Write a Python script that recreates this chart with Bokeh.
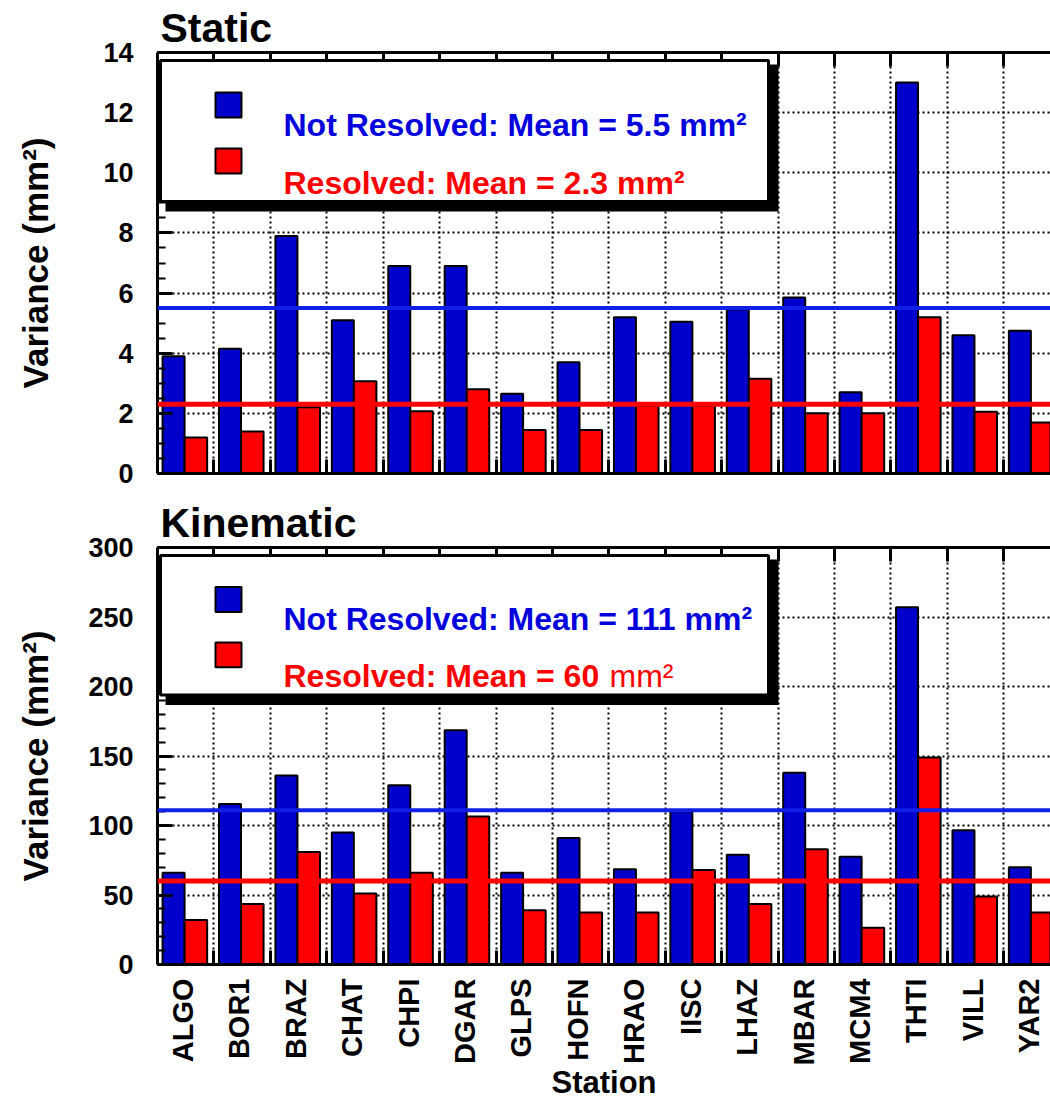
import numpy as np
from bokeh.plotting import figure
from bokeh.models import (Range1d, FixedTicker, SingleIntervalTicker, LinearAxis,
                          Span, BoxAnnotation, Label, CustomLabelingPolicy)
from bokeh.layouts import column
from bokeh.embed import file_html
from bokeh.resources import INLINE

# ---------------- data ----------------
stations = ["ALGO", "BOR1", "BRAZ", "CHAT", "CHPI", "DGAR", "GLPS", "HOFN",
            "HRAO", "IISC", "LHAZ", "MBAR", "MCM4", "THTI", "VILL", "YAR2"]

static_not_resolved = [3.9, 4.15, 7.9, 5.1, 6.9, 6.9, 2.65, 3.7,
                       5.2, 5.05, 5.45, 5.85, 2.7, 13.0, 4.6, 4.75]
static_resolved = [1.2, 1.4, 2.2, 3.07, 2.07, 2.8, 1.45, 1.45,
                   2.25, 2.25, 3.15, 2.0, 2.0, 5.2, 2.05, 1.7]
static_means = [5.5, 2.3]          # not resolved, resolved (mm^2)

kinematic_not_resolved = [66, 115.5, 136, 95, 129, 168.5, 66, 91,
                          68.5, 110, 79, 138, 77.5, 257, 96.5, 70]
kinematic_resolved = [32, 43.5, 81, 51, 66, 106.5, 39, 37.5,
                      37.5, 68, 43.5, 83, 26.5, 149, 49, 37.5]
kinematic_means = [111, 60]

# ---------------- style ----------------
FONT = "Liberation Sans"
BLUE_BAR = "#0000cc"
BLUE_LINE = "#1020e8"
BLUE_TEXT = "#0000dd"
RED = "#ff0000"

N = len(stations)
CAT_PX = 56.42                 # pixel width of one station slot
FIG_W = 1050
FRAME_LEFT = 157
FRAME_W = FIG_W - FRAME_LEFT
FRAME_H = 421
XMAX = FRAME_W / CAT_PX        # the right side of the chart is cut off
idx = np.arange(N)
boundaries = list(range(1, N + 1))
label_ticks = [float(i) + 0.45 for i in range(N)]

HIDE_ALL = "for (const i of indices) indices.unset(i)\nreturn indices"


def tick_only_axis(ax):
    ax.ticker = FixedTicker(ticks=boundaries)
    ax.axis_line_width = 3
    ax.major_tick_in = 14
    ax.major_tick_out = 0
    ax.major_tick_line_width = 3
    ax.minor_tick_line_color = None
    ax.major_label_text_font_size = "1px"
    ax.major_label_standoff = 0
    ax.major_label_policy = CustomLabelingPolicy(code=HIDE_ALL)


def station_axis(ax):
    # labels at the station slots, inward ticks at the slot boundaries
    ax.ticker = FixedTicker(ticks=label_ticks, minor_ticks=boundaries)
    ax.major_label_overrides = {t: s for t, s in zip(label_ticks, stations)}
    ax.axis_line_width = 3
    ax.major_tick_line_color = None
    ax.minor_tick_in = 14
    ax.minor_tick_out = 0
    ax.minor_tick_line_width = 3
    ax.major_label_orientation = np.pi / 2
    ax.major_label_standoff = 8
    ax.major_label_text_font = FONT
    ax.major_label_text_font_style = "bold"
    ax.major_label_text_font_size = "29px"
    ax.major_label_text_color = "black"
    ax.axis_label = "Station"
    ax.axis_label_standoff = -3
    ax.axis_label_text_font = FONT
    ax.axis_label_text_font_style = "bold"
    ax.axis_label_text_font_size = "31px"
    ax.axis_label_text_color = "black"


def make_panel(title, blue, red, means, ymax, interval, n_minor, height,
               border_top, border_bottom, label_standoff, red_split=False,
               with_stations=False):
    p = figure(width=FIG_W, height=height,
               x_range=Range1d(0, XMAX), y_range=Range1d(0, ymax),
               output_backend="svg", toolbar_location=None, tools="",
               min_border_left=FRAME_LEFT, min_border_right=0,
               min_border_top=border_top, min_border_bottom=border_bottom,
               outline_line_color=None)
    ppu = FRAME_H / ymax

    def xd(px):      # px from the figure's left edge
        return (px - FRAME_LEFT) / CAT_PX

    def yd(off):     # px below the frame top
        return ymax - off / ppu

    # title
    p.title.text = title
    p.title.align = "left"
    p.title.offset = 3
    p.title.standoff = -5
    p.title.text_font = FONT
    p.title.text_font_style = "bold"
    p.title.text_font_size = "41px"
    p.title.text_color = "black"

    # grid
    p.xgrid.ticker = FixedTicker(ticks=boundaries)
    p.yaxis.ticker = SingleIntervalTicker(interval=interval, num_minor_ticks=n_minor)
    for g in (p.xgrid, p.ygrid):
        g.grid_line_color = "black"
        g.grid_line_dash = "2 3"
        g.grid_line_width = 2
        g.grid_line_alpha = 1

    # left axis
    ya = p.yaxis[0]
    ya.axis_line_width = 3
    ya.major_tick_in = 15
    ya.major_tick_out = 0
    ya.minor_tick_in = 8
    ya.minor_tick_out = 0
    ya.major_tick_line_width = 3
    ya.minor_tick_line_width = 2
    ya.major_label_text_font = FONT
    ya.major_label_text_font_style = "bold"
    ya.major_label_text_font_size = "27px"
    ya.major_label_text_color = "black"
    ya.major_label_standoff = 24
    ya.axis_label = "Variance (mm²)"
    ya.axis_label_text_font = FONT
    ya.axis_label_text_font_style = "bold"
    ya.axis_label_text_font_size = "35px"
    ya.axis_label_text_color = "black"
    ya.axis_label_standoff = label_standoff

    # bottom axis and top frame
    if with_stations:
        station_axis(p.xaxis[0])
    else:
        tick_only_axis(p.xaxis[0])
    ta = LinearAxis()
    tick_only_axis(ta)
    p.add_layout(ta, "above")

    # bars
    p.vbar(x=idx + 0.285, width=0.39, top=blue, bottom=0,
           fill_color=BLUE_BAR, line_color="black", line_width=2)
    p.vbar(x=idx + 0.68, width=0.40, top=red, bottom=0,
           fill_color=RED, line_color="black", line_width=2)

    # mean lines
    p.add_layout(Span(location=means[0], dimension="width",
                      line_color=BLUE_LINE, line_width=4))
    p.add_layout(Span(location=means[1], dimension="width",
                      line_color=RED, line_width=5))

    # legend box with shadow
    p.add_layout(BoxAnnotation(left=xd(165), right=xd(778), top=yd(12), bottom=yd(159),
                               fill_color="black", fill_alpha=1, line_color=None))
    p.add_layout(BoxAnnotation(left=xd(160), right=xd(768), top=yd(8), bottom=yd(149),
                               fill_color="white", fill_alpha=1,
                               line_color="black", line_alpha=1, line_width=3))
    p.add_layout(BoxAnnotation(left=xd(215), right=xd(241), top=yd(40), bottom=yd(65),
                               fill_color=BLUE_BAR, fill_alpha=1,
                               line_color="black", line_alpha=1, line_width=2))
    p.add_layout(BoxAnnotation(left=xd(215), right=xd(241), top=yd(96), bottom=yd(121),
                               fill_color=RED, fill_alpha=1,
                               line_color="black", line_alpha=1, line_width=2))

    def fmt(v):
        return f"{v:g}"

    p.add_layout(Label(x=xd(283), y=yd(72),
                       text=f"Not Resolved: Mean = {fmt(means[0])} mm²",
                       text_font=FONT, text_font_style="bold", text_font_size="32px",
                       text_color=BLUE_TEXT, text_baseline="alphabetic"))
    if red_split:
        p.add_layout(Label(x=xd(283), y=yd(130),
                           text=f"Resolved: Mean = {fmt(means[1])}",
                           text_font=FONT, text_font_style="bold", text_font_size="32px",
                           text_color=RED, text_baseline="alphabetic"))
        p.add_layout(Label(x=xd(609), y=yd(130), text="mm²",
                           text_font=FONT, text_font_style="normal", text_font_size="32px",
                           text_color=RED, text_baseline="alphabetic"))
    else:
        p.add_layout(Label(x=xd(283), y=yd(130),
                           text=f"Resolved: Mean = {fmt(means[1])} mm²",
                           text_font=FONT, text_font_style="bold", text_font_size="32px",
                           text_color=RED, text_baseline="alphabetic"))
    return p


p1 = make_panel("Static", static_not_resolved, static_resolved, static_means,
                14, 2, 4, height=500, border_top=52, border_bottom=27,
                label_standoff=45)
p2 = make_panel("Kinematic", kinematic_not_resolved, kinematic_resolved, kinematic_means,
                300, 50, 5, height=603, border_top=43, border_bottom=139,
                label_standoff=30, red_split=True, with_stations=True)

layout = column(p1, p2, spacing=0)
open("out.html", "w").write(file_html(layout, INLINE))
